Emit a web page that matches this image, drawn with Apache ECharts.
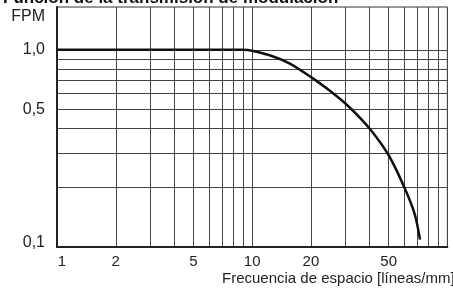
<!DOCTYPE html>
<html>
<head>
<meta charset="utf-8">
<script src="https://cdn.jsdelivr.net/npm/echarts@6/dist/echarts.min.js"></script>
<style>
html,body{margin:0;padding:0;background:#fff;}
#chart{width:453px;height:288px;}
</style>
</head>
<body>
<div id="chart"></div>
<script>
// frecuencia [líneas/mm] y FPM
var freq = [1, 5, 9, 10.1, 12.8, 15.6, 20.2, 25, 31, 40, 50, 60, 68, 72.4];
var fpm = [1, 1, 1, 0.986, 0.926, 0.852, 0.723, 0.62, 0.519, 0.398, 0.292, 0.202, 0.147, 0.109];

var xGrid = [1, 2, 3, 4, 5, 6, 7, 8, 9, 10, 20, 30, 40, 50, 60, 70, 80, 90, 100];
var xLabels = [1, 2, 5, 10, 20, 50];
var yGrid = [0.1, 0.2, 0.3, 0.4, 0.5, 0.6, 0.7, 0.8, 0.9, 1];
var yLabels = [0.1, 0.5, 1];

var font = 'Liberation Sans, Arial, sans-serif';
var myChart = echarts.init(document.getElementById('chart'), null, {renderer: 'canvas'});

var points = [];
for (var i = 0; i < freq.length; i++) {
	points.push([freq[i], fpm[i]]);
}

myChart.setOption({
	animation: false,
	title: {
		text: 'Función de la transmisión de modulación',
		left: 3,
		top: -10,
		padding: 0,
		textStyle: {fontFamily: font, fontSize: 17, fontWeight: 'bold', color: '#111'}
	},
	grid: {
		left: 57, right: 1, top: 7, bottom: 41,
		show: true, borderColor: '#333', borderWidth: 1
	},
	xAxis: {
		type: 'log',
		logBase: 10,
		min: 1,
		max: 100,
		name: 'Frecuencia de espacio [líneas/mm]',
		nameLocation: 'start',
		nameGap: -165,
		nameTextStyle: {
			fontFamily: font, fontSize: 15, color: '#222',
			align: 'left', verticalAlign: 'top', padding: [24, 0, 0, 0]
		},
		axisLine: {lineStyle: {color: '#222', width: 2}},
		axisTick: {show: false, customValues: xGrid},
		axisLabel: {
			customValues: xLabels,
			fontFamily: font, fontSize: 15, color: '#222', margin: 7,
			formatter: function (v) {
				return v === 1 ? '{first|1}' : String(v);
			},
			rich: {
				first: {fontFamily: font, fontSize: 15, color: '#222', padding: [0, 0, 0, 10]}
			}
		},
		splitLine: {show: true, lineStyle: {color: '#444', width: 1}}
	},
	yAxis: {
		type: 'log',
		logBase: 10,
		min: 0.1,
		max: 1.65,
		name: 'FPM',
		nameLocation: 'end',
		nameGap: -10,
		nameTextStyle: {
			fontFamily: font, fontSize: 16, color: '#222',
			align: 'right', verticalAlign: 'middle', padding: [0, 12, 0, 0]
		},
		axisLine: {lineStyle: {color: '#222', width: 2}},
		axisTick: {show: false, customValues: yGrid},
		axisLabel: {
			customValues: yLabels,
			fontFamily: font, fontSize: 16, color: '#222', margin: 12,
			formatter: function (v) {
				var s = v.toFixed(1).replace('.', ',');
				return v < 0.15 ? '{low|' + s + '}' : s;
			},
			rich: {
				low: {fontFamily: font, fontSize: 16, color: '#222', padding: [0, 0, 8, 0]}
			}
		},
		splitLine: {show: true, lineStyle: {color: '#444', width: 1}}
	},
	series: [{
		type: 'line',
		data: points,
		smooth: 0.3,
		showSymbol: false,
		lineStyle: {color: '#111', width: 2.5}
	}]
});
</script>
</body>
</html>
